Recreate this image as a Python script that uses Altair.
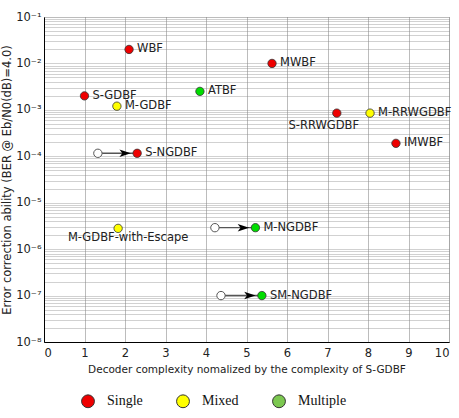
import altair as alt
import pandas as pd

# Decoders: complexity normalised by S-GDBF, BER at Eb/N0 = 4.0 dB
decoders = ["WBF", "MWBF", "S-GDBF", "M-GDBF", "ATBF", "S-RRWGDBF",
            "M-RRWGDBF", "IMWBF", "S-NGDBF", "M-GDBF-with-Escape",
            "M-NGDBF", "SM-NGDBF"]
complexity = [2.1, 5.63, 1.0, 1.8, 3.85, 7.23, 8.05, 8.69, 2.3, 1.83, 5.22, 5.38]
ber = [2.0e-2, 1.0e-2, 2.0e-3, 1.2e-3, 2.5e-3, 8.5e-4, 8.5e-4, 1.9e-4,
       1.16e-4, 2.8e-6, 2.9e-6, 1.0e-7]
flip_type = ["Single", "Single", "Single", "Mixed", "Multiple", "Single",
             "Mixed", "Single", "Single", "Mixed", "Multiple", "Multiple"]

# Noisy variants: complexity of the starting (non-noisy) decoder
arrow_targets = ["S-NGDBF", "M-NGDBF", "SM-NGDBF"]
arrow_start = [1.33, 4.22, 4.37]

types = ["Single", "Mixed", "Multiple"]
marker_colors = ["#ee0000", "#ffff00", "#00dd00"]
legend_colors = ["#ee0000", "#ffff00", "#7cc850"]

df = pd.DataFrame({"name": decoders, "cx": complexity, "ber": ber, "type": flip_type})
df["fill"] = df["type"].map(dict(zip(types, marker_colors)))

arrows = pd.DataFrame({"name": arrow_targets, "x0": arrow_start})
arrows = arrows.merge(df[["name", "cx", "ber"]], on="name")

# log-scale grid values: 1..9 x 10^k
powers = list(range(-8, -1 + 1))
grid_vals = []
for k in powers:
    for d in range(1, 10):
        if k == -1 and d > 1:
            break
        grid_vals.append(float(f"{d}e{k}"))

sup = {"-": "\u207b", "1": "\u00b9", "2": "\u00b2", "3": "\u00b3", "4": "\u2074",
       "5": "\u2075", "6": "\u2076", "7": "\u2077", "8": "\u2078"}
label_expr = ""
for k in powers:
    txt = "10" + "".join(sup[c] for c in str(k))
    label_expr += f"datum.value == {float(f'1e{k}')!r} ? '{txt}' : "
label_expr += "''"

FONT = "DejaVu Sans"

x_scale = alt.Scale(domain=[0, 10], nice=False)
y_scale = alt.Scale(type="log", domain=[1e-8, 1e-1], nice=False)

x_enc = alt.X("cx:Q", scale=x_scale, axis=alt.Axis(
    values=list(range(0, 11)), title="Decoder complexity nomalized by the complexity of S-GDBF",
    grid=True, gridDash=[1, 1], gridColor="#555", gridWidth=0.8,
    labelFont=FONT, labelFontSize=11.5, titleFont=FONT, titleFontSize=10.5,
    titleFontWeight="normal", titleColor="#222", labelColor="#222",
    domainColor="#000", tickSize=0, labelPadding=5, titlePadding=6))

y_enc = alt.Y("ber:Q", scale=y_scale, axis=alt.Axis(
    values=grid_vals, labelExpr=label_expr,
    title="Error correction ability (BER @ Eb/N0(dB)=4.0)",
    grid=True, gridDash=[1, 1], gridColor="#8a8a8a", gridWidth=0.8,
    labelFont=FONT, labelFontSize=11.5, titleFont=FONT, titleFontSize=11.5,
    titleFontWeight="normal", titleColor="#222", labelColor="#222",
    domainColor="#000", tickSize=0, labelPadding=3, titlePadding=3,
    labelOverlap=False))

base = alt.Chart(df)

# invisible layer that carries the legend
legend_layer = base.mark_point(filled=True, shape="circle", opacity=0).encode(
    x=x_enc, y=y_enc,
    fill=alt.Fill("type:N", scale=alt.Scale(domain=types, range=legend_colors),
                  legend=alt.Legend(
                      title=None, orient="none", direction="horizontal", columns=3,
                      legendX=37, legendY=377, symbolSize=165, symbolType="circle",
                      symbolOpacity=1, symbolStrokeColor="#222", symbolStrokeWidth=1,
                      labelFont="Liberation Serif", labelFontSize=14, labelColor="#111",
                      labelOffset=12, columnPadding=31, padding=0)))

arrow_lines = alt.Chart(arrows).mark_rule(color="#555", strokeWidth=1.4).encode(
    x=alt.X("x0:Q", scale=x_scale), x2="cx:Q", y=alt.Y("ber:Q", scale=y_scale))

start_pts = alt.Chart(arrows).mark_point(
    shape="circle", filled=True, fill="white", stroke="#555", strokeWidth=1,
    size=70, opacity=1).encode(
    x=alt.X("x0:Q", scale=x_scale), y=alt.Y("ber:Q", scale=y_scale))

heads = alt.Chart(arrows).mark_point(
    shape="M1,0 L-1,-0.65 L-0.5,0 L-1,0.65 Z", filled=True, color="black",
    size=130, xOffset=-12, opacity=1).encode(
    x=alt.X("cx:Q", scale=x_scale), y=alt.Y("ber:Q", scale=y_scale))

points = base.mark_point(filled=True, shape="circle", size=70, stroke="#333",
                         strokeWidth=0.8, opacity=1).encode(
    x=alt.X("cx:Q", scale=x_scale), y=alt.Y("ber:Q", scale=y_scale),
    fill=alt.Fill("fill:N", scale=None))

below_right = ["S-RRWGDBF"]
below_left = ["M-GDBF-with-Escape"]
special = below_right + below_left

text_style = dict(font=FONT, fontSize=11.5, color="#222")

labels = base.transform_filter(
    ~alt.FieldOneOfPredicate(field="name", oneOf=special)
).mark_text(align="left", baseline="middle", dx=8, **text_style).encode(
    x=alt.X("cx:Q", scale=x_scale), y=alt.Y("ber:Q", scale=y_scale), text="name:N")

labels_rr = base.transform_filter(
    alt.FieldOneOfPredicate(field="name", oneOf=below_right)
).mark_text(align="center", baseline="middle", dx=-13, dy=13, **text_style).encode(
    x=alt.X("cx:Q", scale=x_scale), y=alt.Y("ber:Q", scale=y_scale), text="name:N")

labels_esc = base.transform_filter(
    alt.FieldOneOfPredicate(field="name", oneOf=below_left)
).mark_text(align="center", baseline="middle", dx=10, dy=10, **text_style).encode(
    x=alt.X("cx:Q", scale=x_scale), y=alt.Y("ber:Q", scale=y_scale), text="name:N")

chart = alt.layer(
    legend_layer, arrow_lines, start_pts, heads, points, labels, labels_rr, labels_esc
).properties(
    width=405, height=325, autosize="none",
    padding={"left": 44, "top": 17, "right": 10, "bottom": 76},
).configure_view(stroke=None).configure(background="white")

chart.save("out.html", embed_options={"renderer": "svg", "actions": False})
